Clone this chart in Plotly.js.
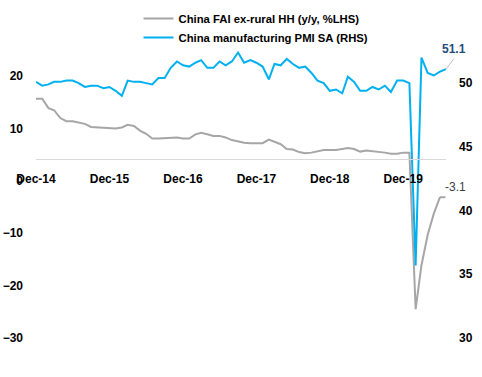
<!DOCTYPE html>
<html>
<head>
<meta charset="utf-8">
<script src="https://cdn.plot.ly/plotly-3.0.1.min.js"></script>
<style>html,body{margin:0;padding:0;background:#fff;}#chart{width:482px;height:377px;}</style>
</head>
<body>
<div id="chart"></div>
<script>
// Monthly dates, Dec-2014 .. Jul-2020
var startYear = 2014, startMonth = 12, nMonths = 68;
var months = [];
for (var i = 0; i < nMonths; i++) {
  var m = startMonth - 1 + i;
  var y = startYear + Math.floor(m / 12);
  var mm = (m % 12) + 1;
  months.push(y + '-' + (mm < 10 ? '0' : '') + mm + '-01');
}

// China FAI ex-rural HH (y/y YTD, %, LHS)
var faiValues = [15.7,
  15.7, 13.9, 13.5, 12.0, 11.4, 11.4, 11.2, 10.9, 10.3, 10.2, 10.2, 10.0,
  10.0, 10.2, 10.7, 10.5, 9.6, 9.0, 8.1, 8.1, 8.2, 8.3, 8.3, 8.1,
  8.1, 8.9, 9.2, 8.9, 8.6, 8.6, 8.3, 7.8, 7.5, 7.3, 7.2, 7.2,
  7.2, 7.9, 7.5, 7.0, 6.1, 6.0, 5.5, 5.3, 5.4, 5.7, 5.9, 5.9,
  5.9, 6.1, 6.3, 6.1, 5.6, 5.8, 5.7, 5.5, 5.4, 5.2, 5.2, 5.4,
  5.4, -24.5, -16.1, -10.3, -6.3, -3.1, null];

// China manufacturing PMI SA (RHS)
var pmiValues = [50.1,
  49.8, 49.9, 50.1, 50.1, 50.2, 50.2, 50.0, 49.7, 49.8, 49.8, 49.6, 49.7,
  49.4, 49.0, 50.2, 50.1, 50.1, 50.0, 49.9, 50.4, 50.4, 51.2, 51.7, 51.4,
  51.3, 51.6, 51.8, 51.2, 51.2, 51.7, 51.4, 51.7, 52.4, 51.6, 51.8, 51.6,
  51.3, 50.3, 51.5, 51.4, 51.9, 51.5, 51.2, 51.3, 50.8, 50.2, 50.0, 49.4,
  49.5, 49.2, 50.5, 50.1, 49.4, 49.4, 49.7, 49.5, 49.8, 49.3, 50.2, 50.2,
  50.0, 35.7, 52.0, 50.8, 50.6, 50.9, 51.1];

var seriesNames = ['China FAI ex-rural HH (y/y, %LHS)', 'China manufacturing PMI SA (RHS)'];
var tickDates = ['2014-12-01','2015-12-01','2016-12-01','2017-12-01','2018-12-01','2019-12-01'];
var tickLabels = ['Dec-14','Dec-15','Dec-16','Dec-17','Dec-18','Dec-19'];
var leftTicks = [-30, -20, -10, 0, 10, 20];
var rightTicks = [30, 35, 40, 45, 50];

var lastFaiIdx = 0;
for (var k = 0; k < faiValues.length; k++) if (faiValues[k] !== null) lastFaiIdx = k;
var lastPmiIdx = pmiValues.length - 1;

var tickFont = {family: 'Liberation Sans, Arial, sans-serif', size: 12, color: '#000', weight: 'bold'};

var traces = [
  {x: months, y: faiValues, name: seriesNames[0], type: 'scatter', mode: 'lines',
   line: {color: '#a6a6a6', width: 2}, yaxis: 'y', connectgaps: false},
  {x: months, y: pmiValues, name: seriesNames[1], type: 'scatter', mode: 'lines',
   line: {color: '#00b0f0', width: 2}, yaxis: 'y2'}
];

var layout = {
  width: 482, height: 377,
  margin: {l: 36, r: 36, t: 50, b: 39, autoexpand: false},
  paper_bgcolor: '#fff', plot_bgcolor: '#fff',
  showlegend: true,
  legend: {x: 0.25, y: 1.16, xanchor: 'left', yanchor: 'top', bgcolor: 'rgba(0,0,0,0)',
    font: {family: 'Liberation Sans, Arial, sans-serif', size: 11.3, color: '#000', weight: 'bold'},
    tracegroupgap: 0},
  xaxis: {type: 'date', range: ['2014-12-01', '2020-07-01'], anchor: 'free', position: 0.6215,
    showline: true, linecolor: '#d9d9d9', linewidth: 1, showgrid: false, zeroline: false,
    ticks: '', tickvals: tickDates, ticktext: tickLabels, tickfont: tickFont, ticklabelstandoff: 9},
  yaxis: {range: [-30, 25], tickvals: leftTicks, showgrid: false, zeroline: false, showline: false,
    ticks: '', tickfont: tickFont, ticklabelstandoff: 12},
  yaxis2: {range: [30, 52.6], overlaying: 'y', side: 'right', tickvals: rightTicks, showgrid: false,
    zeroline: false, showline: false, ticks: '', tickfont: tickFont, ticklabelstandoff: 12},
  annotations: [
    {x: months[lastPmiIdx], y: pmiValues[lastPmiIdx], xref: 'x', yref: 'y2', text: '',
     showarrow: true, arrowhead: 0, arrowwidth: 1, arrowcolor: '#bfbfbf', ax: 9, ay: -12},
    {x: months[lastPmiIdx], y: pmiValues[lastPmiIdx], xref: 'x', yref: 'y2',
     text: pmiValues[lastPmiIdx].toFixed(1), showarrow: false, xshift: 8, yshift: 20,
     font: {family: 'Liberation Sans, Arial, sans-serif', size: 12, color: '#1f4e79', weight: 'bold'}},
    {x: months[lastFaiIdx], y: faiValues[lastFaiIdx], xref: 'x', yref: 'y', text: '',
     showarrow: true, arrowhead: 0, arrowwidth: 2, arrowcolor: '#a6a6a6', ax: 7, ay: 0},
    {x: months[lastFaiIdx], y: faiValues[lastFaiIdx], xref: 'x', yref: 'y',
     text: faiValues[lastFaiIdx].toFixed(1), showarrow: false, xanchor: 'left', xshift: 3, yshift: 10,
     font: {family: 'Liberation Sans, Arial, sans-serif', size: 12, color: '#404040'}}
  ]
};

Plotly.newPlot('chart', traces, layout, {staticPlot: true, displayModeBar: false});
</script>
</body>
</html>
